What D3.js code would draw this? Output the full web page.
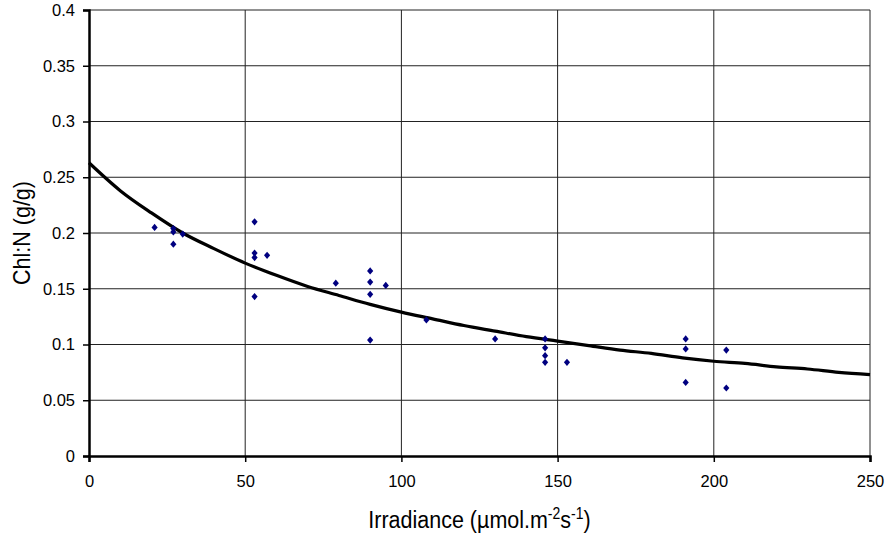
<!DOCTYPE html>
<html>
<head>
<meta charset="utf-8">
<script src="https://cdn.jsdelivr.net/npm/d3@7"></script>
<style>
  body { margin: 0; background: #fff; }
  svg { font-family: "Liberation Sans", Arial, sans-serif; }
</style>
</head>
<body>
<div id="container"></div>
<script>
/* CONSTANTS AND GLOBALS */
const width = 885;
const height = 533;
const margin = { top: 10, right: 15, bottom: 77, left: 89 };

/* DATA */
// measured points
const irradiance = [21, 27, 27, 27, 30, 53, 53, 53, 53, 57, 79, 90, 90, 90, 90, 95, 108, 130,
  146, 146, 146, 146, 153, 191, 191, 191, 204, 204];
const chlN = [0.205, 0.204, 0.201, 0.19, 0.199, 0.21, 0.182, 0.178, 0.143, 0.18, 0.155, 0.166, 0.156, 0.145, 0.104, 0.153, 0.122, 0.105,
  0.105, 0.097, 0.09, 0.084, 0.084, 0.105, 0.096, 0.066, 0.095, 0.061];

const curveX = [0, 10, 20, 30, 40, 50, 60, 70, 80, 90, 100, 110, 120, 130, 140, 150, 160, 170, 180, 190, 200, 210, 220, 230, 240, 250];
const curveY = [0.263, 0.238, 0.218, 0.2, 0.186, 0.173, 0.162, 0.152, 0.144, 0.136, 0.129, 0.123, 0.117, 0.112, 0.107, 0.103,
  0.099, 0.095, 0.092, 0.088, 0.085, 0.083, 0.08, 0.078, 0.075, 0.073];

const xTicks = [0, 50, 100, 150, 200, 250];
const yTicks = [0, 0.05, 0.1, 0.15, 0.2, 0.25, 0.3, 0.35, 0.4];

const svg = d3.select("#container").append("svg")
  .attr("width", width)
  .attr("height", height);

/* SCALES */
const xScale = d3.scaleLinear()
  .domain([0, 250])
  .range([margin.left, width - margin.right]);

const yScale = d3.scaleLinear()
  .domain([0, 0.4])
  .range([height - margin.bottom, margin.top]);

// gridlines
svg.append("g")
  .selectAll("line")
  .data(xTicks.slice(1))
  .join("line")
  .attr("x1", d => xScale(d)).attr("x2", d => xScale(d))
  .attr("y1", yScale(0)).attr("y2", yScale(0.4))
  .attr("stroke", "#222").attr("stroke-width", 1);

svg.append("g")
  .selectAll("line")
  .data(yTicks.slice(1))
  .join("line")
  .attr("x1", xScale(0)).attr("x2", xScale(250))
  .attr("y1", d => yScale(d)).attr("y2", d => yScale(d))
  .attr("stroke", "#222").attr("stroke-width", 1);

/* AXES */
const xAxis = d3.axisBottom(xScale).tickValues(xTicks).tickSize(6).tickPadding(13).tickFormat(d3.format("d"));
const yAxis = d3.axisLeft(yScale).tickValues(yTicks).tickSize(6).tickPadding(8).tickFormat(d => String(+d.toFixed(2)));

const gx = svg.append("g")
  .attr("transform", `translate(0, ${yScale(0)})`)
  .call(xAxis);
const gy = svg.append("g")
  .attr("transform", `translate(${xScale(0)}, 0)`)
  .call(yAxis);

[gx, gy].forEach(g => {
  g.attr("font-family", null).attr("font-size", null);
  g.select(".domain").attr("stroke", "#000").attr("stroke-width", 2.5);
  g.selectAll(".tick line").attr("stroke", "#000").attr("stroke-width", 1.5);
  g.selectAll(".tick text")
    .style("font-size", "16.5px")
    .style("font-family", "'Liberation Sans', Arial, sans-serif")
    .attr("fill", "#000");
});

// fitted curve
const line = d3.line()
  .x((d, i) => xScale(curveX[i]))
  .y(d => yScale(d))
  .curve(d3.curveMonotoneX);

svg.append("path")
  .datum(curveY)
  .attr("d", line)
  .attr("fill", "none")
  .attr("stroke", "#000")
  .attr("stroke-width", 3.2);

// points
svg.selectAll("path.pt")
  .data(irradiance)
  .join("path")
  .attr("class", "pt")
  .attr("d", d3.symbol(d3.symbolDiamond2, 30))
  .attr("transform", (d, i) => `translate(${xScale(d)}, ${yScale(chlN[i])}) scale(0.9, 1.05)`)
  .attr("fill", "#000080");

/* LABELS */
const xl = svg.append("text")
  .attr("transform", `translate(${(xScale(0) + xScale(250)) / 2}, 528) scale(1, 1.15)`)
  .attr("text-anchor", "middle")
  .style("font-size", "21.5px");
xl.append("tspan").text("Irradiance (µmol.m");
xl.append("tspan").attr("dy", -8).style("font-size", "14px").text("-2");
xl.append("tspan").attr("dy", 8).text("s");
xl.append("tspan").attr("dy", -8).style("font-size", "14px").text("-1");
xl.append("tspan").attr("dy", 8).text(")");

svg.append("text")
  .attr("transform", `translate(30, ${(yScale(0) + yScale(0.4)) / 2}) rotate(-90) scale(1, 1.1)`)
  .attr("text-anchor", "middle")
  .style("font-size", "21.5px")
  .text("Chl:N (g/g)");
</script>
</body>
</html>
